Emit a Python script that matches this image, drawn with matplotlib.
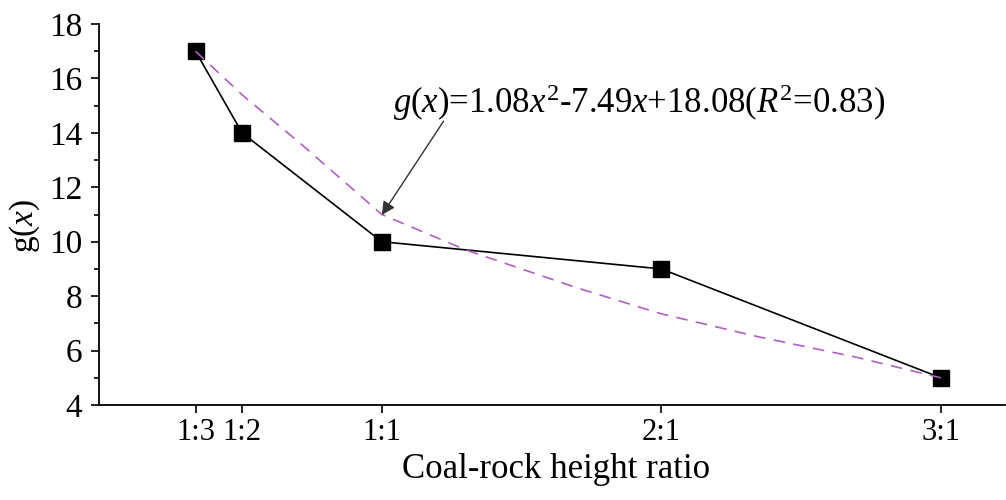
import matplotlib as mpl
mpl.use('Agg')
import matplotlib.pyplot as plt
from matplotlib.ticker import MultipleLocator

plt.rcParams['font.family'] = ['Liberation Serif', 'DejaVu Serif']
plt.rcParams['mathtext.fontset'] = 'custom'
plt.rcParams['mathtext.rm'] = 'Liberation Serif'
plt.rcParams['mathtext.it'] = 'Liberation Serif:italic'

# measured points (height ratio as number)
ratio = [1/3, 1/2, 1, 2, 3]
ratio_labels = ['1:3', '1:2', '1:1', '2:1', '3:1']
gx = [17, 14, 10, 9, 5]

# fitted curve
fit_x = [1/3, 0.5, 0.71, 1.0, 1.3, 1.7, 2.0, 2.35, 2.7, 3.0]
fit_y = [17.0, 15.4, 13.6, 11.0, 9.7, 8.3, 7.35, 6.5, 5.75, 5.0]

fig = plt.figure(figsize=(10.06, 5.0), dpi=100)
ax = fig.add_axes([99/1006, 95/500, 906/1006, 381/500])

ax.plot(ratio, gx, color='black', lw=1.2, marker='s', markersize=12,
        markerfacecolor='black', markeredgecolor='black', zorder=2)
ax.plot(fit_x, fit_y, color='#b060c0', lw=1.2, ls=(0, (7, 5)), zorder=3)

ax.set_xlim(-0.012, 3.23)
ax.set_ylim(4, 18)
ax.set_xticks(ratio)
ax.set_xticklabels(ratio_labels)
ax.yaxis.set_major_locator(MultipleLocator(2))
ax.yaxis.set_minor_locator(MultipleLocator(1))

for s in ['top', 'right']:
    ax.spines[s].set_visible(False)
for s in ['left', 'bottom']:
    ax.spines[s].set_linewidth(1.3)

ax.tick_params(axis='both', which='major', direction='out', length=6, width=1.2)
ax.tick_params(axis='x', labelsize=22, pad=3)
ax.tick_params(axis='y', labelsize=24, pad=6)
ax.tick_params(axis='y', which='minor', direction='out', length=3.5, width=1.2)

fig.text(556/1006, 1 - 470/500, 'Coal-rock height ratio', ha='center', va='center', fontsize=25)
fig.text(25/1006, 1 - 226/500, 'g($x$)', ha='center', va='center', fontsize=24, rotation=90)

ax.text(1.039, 14.73, r'$g$($x$)=1.08$x^2$-7.49$x$+18.08($R^2$=0.83)',
        ha='left', va='baseline', fontsize=25)
ax.annotate('', xy=(1.0, 10.98), xytext=(1.221, 14.43),
            arrowprops=dict(arrowstyle='-|>', color='#333333', lw=1.0,
                            mutation_scale=20, shrinkA=0, shrinkB=0))

fig.savefig('out.png', dpi=100)
